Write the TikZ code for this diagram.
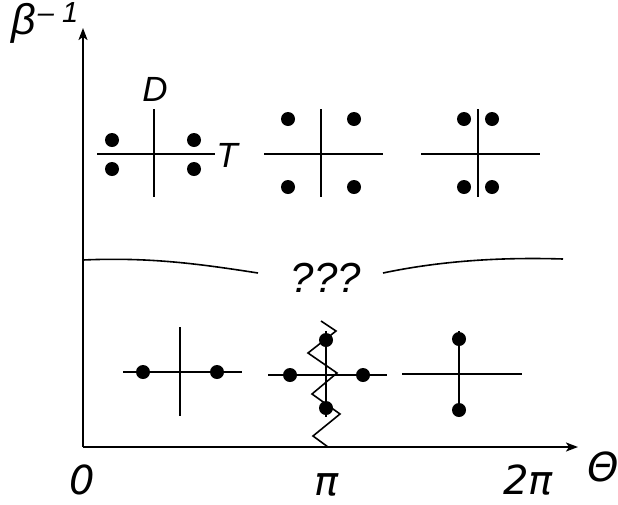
\documentclass[tikz,border=0pt]{standalone}
\usepackage{fontspec}
\setmainfont{Liberation Sans}
\newfontfamily\dvs{DejaVu Sans}
\usetikzlibrary{arrows.meta}
\tikzset{
  axis/.style={line width=2pt,-{Stealth[length=12pt,width=9pt,inset=3pt]}},
  crossline/.style={line width=1.6pt},
  pole/.style={circle,fill=black,inner sep=0pt,minimum size=14pt},
  lbl/.style={inner sep=0pt,font=\fontsize{35}{38}\selectfont\itshape},
  axlbl/.style={inner sep=0pt,font=\fontsize{40}{44}\selectfont\dvs\itshape},
  wavy/.style={line width=1.6pt}
}
\begin{document}
\begin{tikzpicture}[x=1pt,y=-1pt]
\useasboundingbox (0,0) rectangle (618,504);
% axes
\coordinate (O) at (83,447);
\coordinate (ytip) at (83,28);
\coordinate (xtip) at (578,447);
\draw[axis] (O) -- (ytip);
\draw[axis] (O) -- (xtip);
\node[axlbl] (l0) at (82,480) {0};
\node[axlbl] (lpi) at (327,485) {π};
\node[axlbl] (l2pi) at (528,480) {2π};
\node[axlbl] (ltheta) at (603,467) {Θ};
\node[inner sep=0pt,font=\fontsize{43}{46}\selectfont\itshape] (lbeta) at (24,23) {β};
\node[inner sep=0pt,font=\fontsize{29}{31}\selectfont\itshape] (lsup) at (58,13) {– 1};
% cross 1
\draw[crossline] (97,154) coordinate (c1l) -- (215,154) coordinate (c1r);
\draw[crossline] (154,109) coordinate (c1t) -- (154,197) coordinate (c1b);
\node[pole] (p11) at (112,140) {};
\node[pole] (p12) at (112,169) {};
\node[pole] (p13) at (194,140) {};
\node[pole] (p14) at (194,169) {};
\node[lbl] (D) at (155,89) {D};
\node[lbl] (T) at (227,155) {T};
% cross 2
\draw[crossline] (264,154) coordinate (c2l) -- (383,154) coordinate (c2r);
\draw[crossline] (321,109) coordinate (c2t) -- (321,197) coordinate (c2b);
\node[pole] (p21) at (288,119) {};
\node[pole] (p22) at (354,119) {};
\node[pole] (p23) at (288,187) {};
\node[pole] (p24) at (354,187) {};
% cross 3
\draw[crossline] (421,154) coordinate (c3l) -- (540,154) coordinate (c3r);
\draw[crossline] (478,109) coordinate (c3t) -- (478,197) coordinate (c3b);
\node[pole] (p31) at (464,119) {};
\node[pole] (p32) at (492,119) {};
\node[pole] (p33) at (464,187) {};
\node[pole] (p34) at (492,187) {};
% boundary
\draw[crossline] (83,260) .. controls (150,257) and (200,264) .. (258,273);
\draw[crossline] (383,273) .. controls (440,261) and (500,257) .. (563,259);
\node[inner sep=0pt,font=\fontsize{42}{46}\selectfont\itshape] (q) at (326,278) {???};
% cross 4
\draw[crossline] (123,372) coordinate (c4l) -- (242,372) coordinate (c4r);
\draw[crossline] (180,327) coordinate (c4t) -- (180,416) coordinate (c4b);
\node[pole] (p41) at (143,372) {};
\node[pole] (p42) at (217,372) {};
% cross 5
\draw[crossline] (268,375) coordinate (c5l) -- (387,375) coordinate (c5r);
\draw[crossline] (326,331) coordinate (c5t) -- (326,417) coordinate (c5b);
\node[pole] (p51) at (290,375) {};
\node[pole] (p52) at (363,375) {};
\node[pole] (p53) at (326,340) {};
\node[pole] (p54) at (326,408) {};
\draw[wavy] (321,321) -- (336,331) -- (308,353) -- (337,373) -- (312,394) -- (340,414) -- (313,436) -- (328,447);
% cross 6
\draw[crossline] (402,374) coordinate (c6l) -- (522,374) coordinate (c6r);
\draw[crossline] (459,331) coordinate (c6t) -- (459,410) coordinate (c6b);
\node[pole] (p61) at (459,339) {};
\node[pole] (p62) at (459,410) {};
\end{tikzpicture}
\end{document}
